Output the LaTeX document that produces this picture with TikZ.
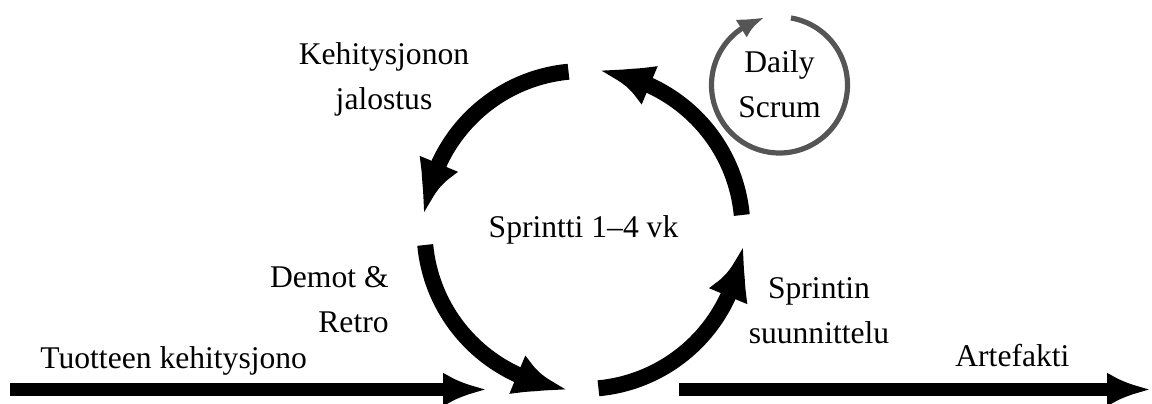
\documentclass[tikz,border=0pt]{standalone}
\usepackage{fontspec}
\setmainfont{Liberation Serif}
\usetikzlibrary{arrows.meta,bending,calc}

\definecolor{scrumgray}{HTML}{555555}

% multi-line labels are anchored at the baseline of their last line
\tikzset{
  lbl/.style={font=\fontsize{15.8}{22.5}\selectfont, inner sep=0pt, anchor=base},
  cyclearc/.style={line width=8pt, -{Latex[length=27pt,width=21pt,bend]}},
  flowarrow/.style={line width=6.5pt, -{Latex[length=22pt,width=17pt]}},
  dailyarc/.style={scrumgray, line width=2.6pt, -{Latex[length=13pt,width=10.5pt,bend]}}
}

\begin{document}
\begin{tikzpicture}[x=0.5pt,y=0.5pt]
  \useasboundingbox (0,0) rectangle (1152,403);

  % sprint cycle
  \coordinate (C) at (583.5,173);
  \def\R{159}
  \coordinate (rA) at ($(C)+(5.4:\R)$);
  \coordinate (tA) at ($(C)+(95.4:\R)$);
  \coordinate (lA) at ($(C)+(185.4:\R)$);
  \coordinate (bA) at ($(C)+(275.4:\R)$);

  \draw[cyclearc] (rA) arc[start angle=5.4,   end angle=84.6,  radius=\R];
  \draw[cyclearc] (tA) arc[start angle=95.4,  end angle=174.6, radius=\R];
  \draw[cyclearc] (lA) arc[start angle=185.4, end angle=264.6, radius=\R];
  \draw[cyclearc] (bA) arc[start angle=275.4, end angle=354.6, radius=\R];

  % input and output flows
  \coordinate (inStart)  at (10,13.5);
  \coordinate (inEnd)    at (487,13.5);
  \coordinate (outStart) at (679,13.5);
  \coordinate (outEnd)   at (1151,13.5);
  \draw[flowarrow] (inStart) -- (inEnd);
  \draw[flowarrow] (outStart) -- (outEnd);

  % daily scrum loop
  \coordinate (D) at (779.5,318);
  \coordinate (dA) at ($(D)+(80.3:68)$);
  \draw[dailyarc] (dA) arc[start angle=80.3, end angle=-257.7, radius=68];

  % labels
  \node[lbl, align=center] (sprint) at (583.5,166) {Sprintti 1--4 vk};
  \node[lbl, align=center] (refine) at (384,294) {Kehitysjonon\\jalostus};
  \node[lbl, align=right, anchor=base east] (review) at (389,71) {Demot \&\\Retro};
  \node[lbl, align=center] (plan) at (819,60) {Sprintin\\suunnittelu};
  \node[lbl, anchor=base west] (backlog) at (40,35) {Tuotteen kehitysjono};
  \node[lbl, anchor=base west] (artefact) at (955,37) {Artefakti};
  \node[lbl, align=center] (daily) at (779.5,286) {Daily\\Scrum};
\end{tikzpicture}
\end{document}
